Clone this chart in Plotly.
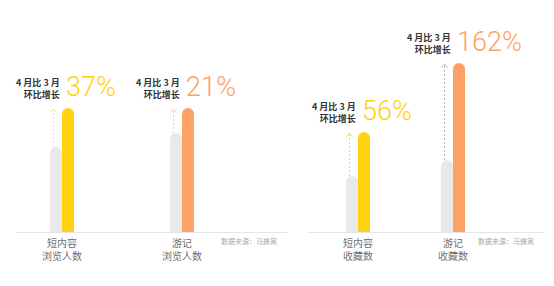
import plotly.graph_objects as go

# ---- data ----
browse_cats = ["短内容<br>浏览人数", "游记<br>浏览人数"]
browse_march = [85, 99]      # relative index (visual heights)
browse_april = [124, 124]
browse_growth = [37, 21]

fav_cats = ["短内容<br>收藏数", "游记<br>收藏数"]
fav_march = [56, 72]
fav_april = [100, 169]
fav_growth = [56, 162]

source_text = "数据来源：马蜂窝"
label_text = "4 月比 3 月<br>环比增长"

# ---- styles ----
W, H = 554, 286
YELLOW = "#FFD10F"
ORANGE = "#FFA066"
GRAY = "#E9E9E9"
col_colors = [YELLOW, ORANGE]
arrow_colors_left = ["#FFE27A", "#FFC8A6"]
arrow_colors_right = ["#F5D55A", "#B5B5B5"]
BAR_PX = 12
CJK = "Noto Sans CJK SC"

base_px = 232
panels = [
    dict(xa="x", ya="y", left=16, right=287, c0=62, unit=120,
         cats=browse_cats, prev=browse_march, cur=browse_april, g=browse_growth,
         arrows=arrow_colors_left, src_right=279),
    dict(xa="x2", ya="y2", left=307, right=545, c0=358, unit=95,
         cats=fav_cats, prev=fav_march, cur=fav_april, g=fav_growth,
         arrows=arrow_colors_right, src_right=536),
]

fig = go.Figure()
shapes = []
annotations = []
layout_axes = {}

for i, p in enumerate(panels):
    u = p["unit"]
    w = BAR_PX / u
    xs = list(range(len(p["cats"])))
    fig.add_trace(go.Bar(x=xs, y=p["prev"], width=w, offset=-w,
                         marker=dict(color=GRAY, line=dict(width=0)),
                         xaxis=p["xa"], yaxis=p["ya"], showlegend=False, hoverinfo="skip"))
    fig.add_trace(go.Bar(x=xs, y=p["cur"], width=w, offset=0,
                         marker=dict(color=col_colors, line=dict(width=0)),
                         xaxis=p["xa"], yaxis=p["ya"], showlegend=False, hoverinfo="skip"))
    xr = [(p["left"] - p["c0"]) / u, (p["right"] - p["c0"]) / u]
    axn = "xaxis" if i == 0 else "xaxis2"
    ayn = "yaxis" if i == 0 else "yaxis2"
    layout_axes[axn] = dict(domain=[p["left"] / W, p["right"] / W], range=xr,
                            anchor=p["ya"], tickmode="array", tickvals=xs, ticktext=p["cats"],
                            showgrid=False, zeroline=False, showline=True,
                            linecolor="#E6E6E6", linewidth=1, ticks="",
                            ticklabelstandoff=2,
                            tickfont=dict(family=CJK, size=10, color="#707070"),
                            fixedrange=True)
    layout_axes[ayn] = dict(domain=[(H - base_px) / H, 1], range=[0, base_px],
                            anchor=p["xa"], visible=False, fixedrange=True)
    for k in xs:
        ax = k - w / 2 - 2.5 / u
        y0 = p["prev"][k]
        y1 = p["cur"][k] - 1
        ac = p["arrows"][k]
        shapes.append(dict(type="line", xref=p["xa"], yref=p["ya"], x0=ax, x1=ax,
                           y0=y0, y1=y1, line=dict(color=ac, width=1, dash="2px,2px")))
        fig.add_trace(go.Scatter(x=[ax - 3 / u, ax, ax + 3 / u], y=[y1 - 3.5, y1, y1 - 3.5],
                                 mode="lines", line=dict(color=ac, width=1),
                                 xaxis=p["xa"], yaxis=p["ya"], showlegend=False, hoverinfo="skip"))
        annotations.append(dict(xref=p["xa"], yref=p["ya"], x=k, y=p["cur"][k],
                                text=label_text, showarrow=False, xanchor="right", yanchor="middle",
                                align="right", yshift=20, xshift=0,
                                font=dict(family=CJK, size=9, color="#333333", weight="bold")))
        annotations.append(dict(xref=p["xa"], yref=p["ya"], x=k, y=p["cur"][k],
                                text=f"{p['g'][k]}%", showarrow=False, xanchor="left", yanchor="middle",
                                yshift=21, xshift=2,
                                font=dict(family="Roboto", size=27, color=col_colors[k], weight=300)))
    annotations.append(dict(xref="paper", yref="paper", x=p["src_right"] / W, y=(H - 241) / H,
                            text=source_text, showarrow=False, xanchor="right", yanchor="middle",
                            font=dict(family=CJK, size=7, color="#AAAAAA")))

fig.update_layout(
    width=W, height=H,
    margin=dict(l=0, r=0, t=0, b=0),
    paper_bgcolor="white", plot_bgcolor="white",
    barmode="overlay", barcornerradius="50%",
    shapes=shapes, annotations=annotations,
    **layout_axes,
)

fig.write_html("out.html", config={"displayModeBar": False})
